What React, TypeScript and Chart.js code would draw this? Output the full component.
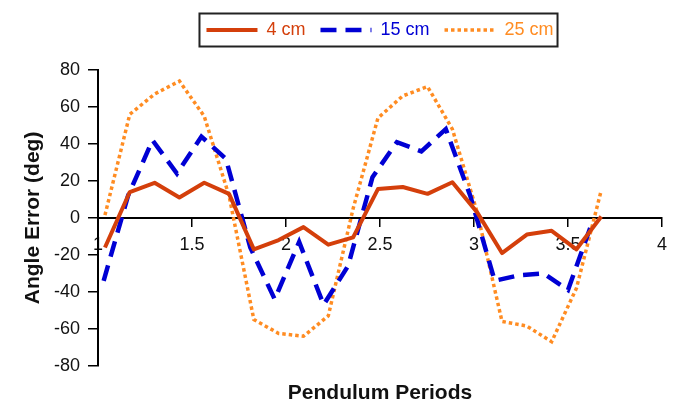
import React, { useEffect, useRef } from "react";
import { Chart, registerables } from "chart.js";

Chart.register(...registerables);

// Pendulum periods (x) for the 4 cm and 25 cm series
const periodsA = [1.037, 1.169, 1.301, 1.433, 1.565, 1.697, 1.829, 1.961, 2.093, 2.225, 2.357, 2.489, 2.621, 2.753, 2.885, 3.017, 3.149, 3.281, 3.413, 3.545, 3.677];
// Pendulum periods (x) for the 15 cm series
const periodsB = [1.03, 1.16, 1.29, 1.42, 1.55, 1.68, 1.81, 1.94, 2.07, 2.2, 2.33, 2.46, 2.59, 2.72, 2.85, 2.98, 3.11, 3.24, 3.37, 3.5, 3.63];

const err4cm = [-16, 14, 19, 11, 19, 13, -17, -12, -5, -14.5, -10.5, 15.6, 16.7, 13, 19.3, 3, -19, -9, -7, -17, 0.8];
const err15cm = [-34, 12, 42, 24, 44, 32, -16, -44, -13, -47, -26, 22, 41, 36, 48, 12, -34, -31, -30, -39, -2];
const err25cm = [1.5, 56, 67, 74, 55, 12, -55, -62.5, -64, -53, 5, 54, 66, 71, 48, 3, -56, -58.5, -67, -38, 15];

const seriesLabels = ["4 cm", "15 cm", "25 cm"];
const xTicks = [1, 1.5, 2, 2.5, 3, 3.5, 4];
const yTicks = [-80, -60, -40, -20, 0, 20, 40, 60, 80];

const COLORS = ["#D43F0B", "#0000D4", "#FF8C22"];
const WIDTHS = [4, 4.5, 3.5];
const DASHES: number[][] = [[], [16, 9], [3.5, 3]];

const FONT = "'Liberation Sans', Arial, Helvetica, sans-serif";

const legendFrame = {
  id: "legendFrame",
  beforeLayout(chart: any) {
    const lg = chart.legend;
    if (lg && !lg.__patched) {
      const orig = lg.fit;
      lg.fit = function (this: any) {
        orig.call(this);
        this.height += 21;
      };
      lg.__patched = true;
    }
  },
  afterDraw(chart: any) {
    const lg = chart.legend;
    if (!lg || !lg.legendHitBoxes || !lg.legendHitBoxes.length) return;
    const hb = lg.legendHitBoxes;
    const left = Math.min(...hb.map((b: any) => b.left)) - 7;
    const right = Math.max(...hb.map((b: any) => b.left + b.width)) + 4;
    const top = Math.min(...hb.map((b: any) => b.top));
    const bottom = Math.max(...hb.map((b: any) => b.top + b.height));
    const cy = (top + bottom) / 2;
    const ctx = chart.ctx;
    ctx.save();
    ctx.strokeStyle = "#222";
    ctx.lineWidth = 2;
    ctx.setLineDash([]);
    ctx.strokeRect(left, cy - 16.5, right - left, 33);
    ctx.restore();
  },
};

export default function App() {
  const ref = useRef<HTMLCanvasElement | null>(null);

  useEffect(() => {
    if (!ref.current) return;
    const mk = (xs: number[], ys: number[]) => xs.map((x, i) => ({ x, y: ys[i] }));
    const chart = new Chart(ref.current, {
      type: "line",
      data: {
        datasets: [
          { label: seriesLabels[0], data: mk(periodsA, err4cm) },
          { label: seriesLabels[1], data: mk(periodsB, err15cm) },
          { label: seriesLabels[2], data: mk(periodsA, err25cm) },
        ].map((d, i) => ({
          ...d,
          borderColor: COLORS[i],
          backgroundColor: COLORS[i],
          borderWidth: WIDTHS[i],
          borderDash: DASHES[i],
          borderCapStyle: "butt",
          borderJoinStyle: i === 0 ? "round" : "miter",
          pointRadius: 0,
          tension: 0,
          fill: false,
        })) as any,
      },
      options: {
        animation: false,
        responsive: true,
        maintainAspectRatio: false,
        layout: { padding: { top: 6, left: 0, right: 19, bottom: 0 } },
        plugins: {
          tooltip: { enabled: false },
          legend: {
            display: true,
            position: "top",
            fullSize: false,
            labels: {
              usePointStyle: true,
              pointStyle: "line",
              pointStyleWidth: 51,
              padding: 15,
              font: { family: FONT, size: 18 },
              generateLabels: (c: any) =>
                c.data.datasets.map((ds: any, i: number) => ({
                  text: ds.label,
                  fillStyle: COLORS[i],
                  strokeStyle: COLORS[i],
                  fontColor: COLORS[i],
                  lineWidth: WIDTHS[i],
                  lineDash: DASHES[i],
                  lineCap: "butt",
                  pointStyle: "line",
                  hidden: false,
                  datasetIndex: i,
                })),
            },
          },
        },
        scales: {
          x: {
            type: "linear",
            position: { y: 0 } as any,
            min: 1,
            max: 4,
            afterBuildTicks: (s: any) => {
              s.ticks = xTicks.map((v) => ({ value: v }));
            },
            ticks: {
              color: "#111",
              font: { family: FONT, size: 18 },
              padding: 8,
              maxRotation: 0,
              autoSkip: false,
              callback: (v: any) => String(v),
            },
            grid: {
              drawOnChartArea: false,
              drawTicks: true,
              tickLength: 8,
              color: "#000",
              lineWidth: 1.5,
            },
            border: { display: true, color: "#000", width: 2 },
          },
          x2: {
            type: "linear",
            position: "bottom",
            display: true,
            ticks: { display: false },
            grid: { display: false },
            border: { display: false },
            title: {
              display: true,
              text: "Pendulum Periods",
              color: "#111",
              font: { family: FONT, size: 21, weight: "bold" },
              padding: { top: 7, bottom: -1 },
            },
          },
          y: {
            type: "linear",
            position: "left",
            min: -80,
            max: 80,
            afterBuildTicks: (s: any) => {
              s.ticks = yTicks.map((v) => ({ value: v }));
            },
            afterFit: (s: any) => {
              s.width = 98;
            },
            ticks: {
              color: "#111",
              font: { family: FONT, size: 18 },
              padding: 8,
              callback: (v: any) => String(v),
            },
            grid: {
              drawOnChartArea: false,
              drawTicks: true,
              tickLength: 10,
              color: "#000",
              lineWidth: 1.5,
            },
            border: { display: true, color: "#000", width: 2 },
            title: {
              display: true,
              text: "Angle Error (deg)",
              color: "#111",
              font: { family: FONT, size: 21, weight: "bold" },
              padding: { top: 21, bottom: 0 },
            },
          },
        },
      } as any,
      plugins: [legendFrame],
    });
    return () => chart.destroy();
  }, []);

  return (
    <div style={{ position: "fixed", left: 0, top: 0, width: 681, height: 405, background: "#fff" }}>
      <canvas ref={ref} />
    </div>
  );
}
